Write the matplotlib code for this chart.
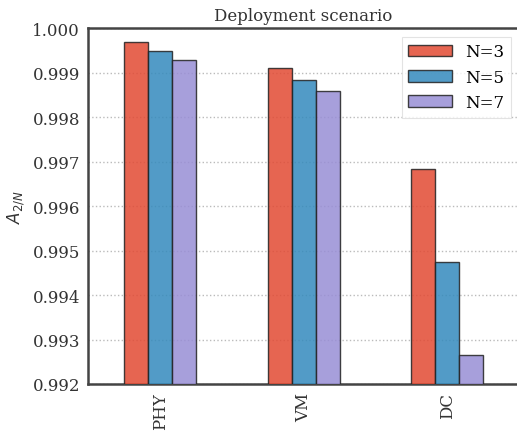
import numpy as np
import matplotlib
matplotlib.use("Agg")
import matplotlib.pyplot as plt

scenarios = ["PHY", "VM", "DC"]
series_labels = ["N=3", "N=5", "N=7"]
a_n3 = [0.999685, 0.999107, 0.996829]
a_n5 = [0.999483, 0.998844, 0.994737]
a_n7 = [0.999280, 0.998583, 0.992652]

COLORS = ["#E24A33", "#348ABD", "#988ED5"]
SPINE = "#444444"

plt.rcParams.update({
    "font.family": "DejaVu Serif",
    "font.size": 12,
    "mathtext.fontset": "dejavusans",
})

fig = plt.figure(figsize=(5.17, 4.35), dpi=100, facecolor="white")
ax = fig.add_axes([0.1708, 0.115, 0.833, 0.8177])

x = np.arange(len(scenarios))
width = 0.5 / 3
for i, (vals, lab) in enumerate(zip([a_n3, a_n5, a_n7], series_labels)):
    ax.bar(x + (i - 1) * width, vals, width=width, color=COLORS[i], alpha=0.85,
           edgecolor="#222222", linewidth=1.0, label=lab, zorder=3)

ax.set_xlim(-0.5, 2.5)
ax.set_ylim(0.992, 1.000)
ax.set_xticks(x)
ax.set_xticklabels(scenarios, rotation=90)
ax.set_yticks(np.arange(0.992, 1.0001, 0.001))
ax.yaxis.set_major_formatter(matplotlib.ticker.FormatStrFormatter("%.3f"))
ax.tick_params(axis="both", length=0, pad=6, colors="#333333", labelsize=12)

ax.grid(axis="y", linestyle=":", color="#bbbbbb", linewidth=1.0, zorder=0)
ax.set_axisbelow(True)
for spine in ax.spines.values():
    spine.set_color(SPINE)
    spine.set_linewidth(1.8)

ax.set_ylabel("$A_{2/N}$", fontsize=12, color="#333333")
ax.set_title("Deployment scenario", fontsize=12, color="#333333", pad=6)

leg = ax.legend(loc="upper right", fontsize=12, frameon=True, fancybox=False,
                edgecolor="#dddddd", handlelength=2.6)
leg.get_frame().set_linewidth(0.8)

fig.savefig("out.png", dpi=100, facecolor="white")
